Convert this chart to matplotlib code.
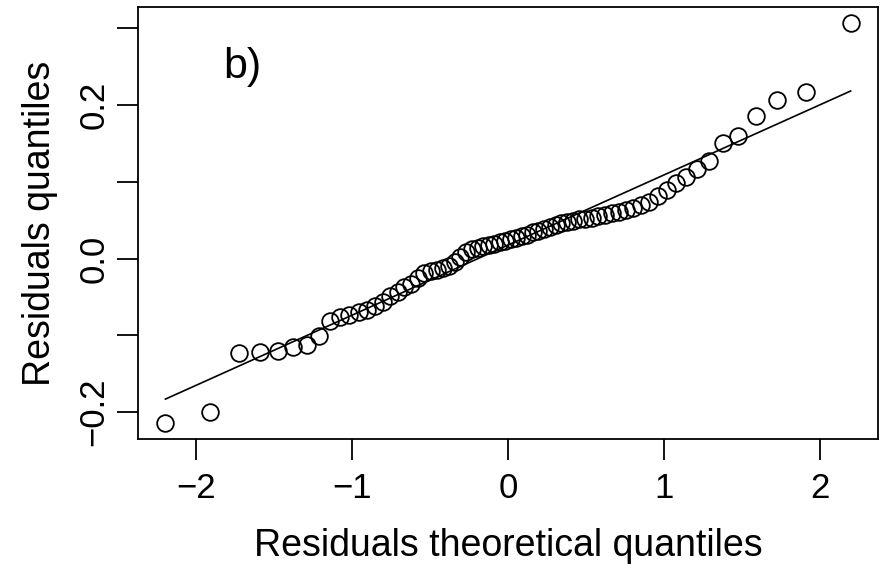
import numpy as np
import matplotlib.pyplot as plt

plt.rcParams['font.family'] = ['Liberation Sans', 'DejaVu Sans']

# theoretical quantiles (70 points)
theo_q = [-2.195, -1.909, -1.725, -1.586, -1.473, -1.375, -1.290, -1.212, -1.142, -1.077,
          -1.016, -0.958, -0.904, -0.852, -0.802, -0.754, -0.708, -0.664, -0.620, -0.578,
          -0.537, -0.496, -0.457, -0.418, -0.380, -0.342, -0.305, -0.268, -0.232, -0.195,
          -0.160, -0.124, -0.088, -0.053, -0.018, 0.018, 0.053, 0.088, 0.124, 0.160,
          0.195, 0.232, 0.268, 0.305, 0.342, 0.380, 0.418, 0.457, 0.496, 0.537,
          0.578, 0.620, 0.664, 0.708, 0.754, 0.802, 0.852, 0.904, 0.958, 1.016,
          1.077, 1.142, 1.212, 1.290, 1.375, 1.473, 1.586, 1.725, 1.909, 2.195]

# sample quantiles of the residuals
resid_q = [-0.214, -0.200, -0.123, -0.122, -0.120, -0.115, -0.112, -0.101, -0.081, -0.076,
           -0.073, -0.070, -0.067, -0.062, -0.057, -0.049, -0.043, -0.037, -0.033, -0.025,
           -0.019, -0.016, -0.015, -0.012, -0.010, -0.005, 0.002, 0.009, 0.012, 0.014,
           0.016, 0.017, 0.019, 0.021, 0.023, 0.025, 0.027, 0.029, 0.031, 0.034,
           0.036, 0.039, 0.041, 0.044, 0.046, 0.048, 0.049, 0.051, 0.052, 0.053,
           0.055, 0.057, 0.059, 0.061, 0.063, 0.066, 0.069, 0.074, 0.081, 0.089,
           0.098, 0.106, 0.116, 0.127, 0.150, 0.159, 0.186, 0.206, 0.216, 0.306]

# reference line (intercept, slope)
line_a = 0.0175
line_b = 0.0913

x = np.array(theo_q)
y = np.array(resid_q)

fig = plt.figure(figsize=(8.82, 5.71), dpi=100)
ax = fig.add_axes([0.1565, 0.2312, 0.839, 0.756])

ax.plot(x, y, 'o', markerfacecolor='none', markeredgecolor='black',
        markersize=12, markeredgewidth=1.3)
xl = np.array([x.min(), x.max()])
ax.plot(xl, line_a + line_b * xl, color='black', linewidth=1.2)

# R style 4% expansion
xr = x.max() - x.min()
yr = y.max() - y.min()
ax.set_xlim(x.min() - 0.04 * xr, x.max() + 0.04 * xr)
ax.set_ylim(y.min() - 0.04 * yr, y.max() + 0.04 * yr)

ax.set_xticks([-2, -1, 0, 1, 2])
ax.set_xticklabels(['\u22122', '\u22121', '0', '1', '2'])
ax.set_yticks([-0.2, -0.1, 0.0, 0.1, 0.2, 0.3])
ax.set_yticklabels(['\u22120.2', '', '0.0', '', '0.2', ''], rotation=90, va='center')
ax.tick_params(direction='out', length=15, width=1.3, labelsize=25)
ax.tick_params(axis='x', pad=9)
ax.tick_params(axis='y', pad=5)
for s in ax.spines.values():
    s.set_linewidth(1.3)

ax.set_xlabel('Residuals theoretical quantiles', fontsize=27, labelpad=16)
ax.set_ylabel('Residuals quantiles', fontsize=27, labelpad=14)
ax.text(-1.70, 0.249, 'b)', fontsize=31, ha='center', va='center')

fig.savefig('out.png', dpi=100)
